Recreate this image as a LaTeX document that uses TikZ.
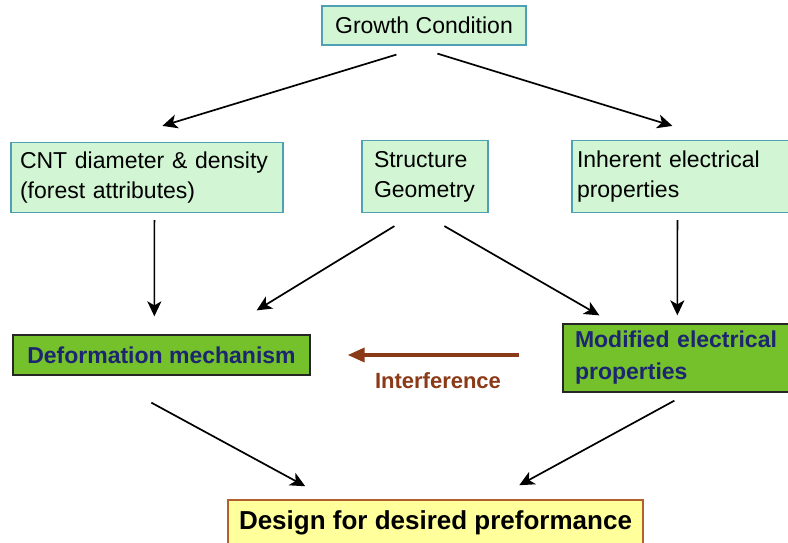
\documentclass[tikz,border=0pt]{standalone}
\usepackage{fontspec}
\setmainfont{Liberation Sans}
\usetikzlibrary{arrows.meta,calc}
\definecolor{lightbox}{HTML}{D2F5D4}
\definecolor{lightborder}{HTML}{4F9FB5}
\definecolor{darkbox}{HTML}{74C12C}
\definecolor{navytext}{HTML}{1C2570}
\definecolor{designfill}{HTML}{FFFF9C}
\definecolor{designborder}{HTML}{B3602E}
\definecolor{brownarrow}{HTML}{8B3A17}
\tikzset{
  lightnode/.style={draw=lightborder, fill=lightbox, line width=1.2pt, inner ysep=0pt,
    font=\fontsize{23}{30}\selectfont, align=left},
  darknode/.style={draw=black!85, fill=darkbox, line width=1.3pt, inner ysep=0pt,
    text=navytext, font=\fontsize{23}{32}\selectfont\bfseries, align=left},
  designnode/.style={draw=designborder, fill=designfill, line width=1.5pt, inner ysep=0pt,
    font=\fontsize{26}{30}\selectfont\bfseries, align=center},
  conn/.style={line width=1.7pt, -{Stealth[length=15pt,width=14pt,inset=4pt]}},
  interf/.style={line width=3.5pt, draw=brownarrow, -{Triangle[length=17pt,width=14pt]}},
}
\begin{document}
\begin{tikzpicture}[x=1pt,y=-1pt]
\useasboundingbox (0,0) rectangle (788,543);
\fill[white] (0,0) rectangle (788,543);
\clip (0,0) rectangle (788,543);

\node[lightnode, minimum width=204pt, minimum height=39pt, align=center] (growth) at (424,25.5) {Growth Condition};
\node[lightnode, inner xsep=9pt, text width=254pt, minimum height=70pt] (cnt) at (147,177.5) {CNT diameter \& density\\(forest attributes)};
\node[lightnode, inner xsep=12pt, text width=102pt, minimum height=72pt] (struct) at (425,176.5) {Structure\\Geometry};
\node[lightnode, inner xsep=5pt, text width=218pt, minimum height=72pt] (inherent) at (686,176.5) {Inherent electrical\\properties};
\node[darknode, minimum width=297pt, minimum height=40pt, align=center] (deform) at (161.5,355) {Deformation mechanism};
\node[darknode, inner xsep=12pt, text width=213pt, minimum height=68pt] (modified) at (681.5,358) {Modified electrical\\properties};
\node[designnode, minimum width=415pt, minimum height=45pt] (design) at (435.5,522.5) {Design for desired preformance};
\node[text=brownarrow, font=\fontsize{22}{26}\selectfont\bfseries] (interlabel) at (438,381) {Interference};

\draw[conn] ($(growth.south west)+(75,9)$) -- ($(cnt.north west)+(152,-16)$);
\draw[conn] ($(growth.south west)+(116,8)$) -- ($(inherent.north west)+(101,-14)$);
\draw[conn] ($(cnt.south west)+(144,7)$) -- ($(deform.north west)+(142,-18)$);
\draw[conn] ($(struct.south west)+(33,13)$) -- ($(deform.north east)+(-54,-24)$);
\draw[conn] ($(struct.south west)+(83,13)$) -- ($(modified.north west)+(37,-8)$);
\draw[conn] ($(inherent.south west)+(106,7)$) -- ($(modified.north west)+(115,-8)$);
\draw[conn] ($(deform.south west)+(139,27)$) -- ($(design.north west)+(78,-13)$);
\draw[conn] ($(modified.south west)+(112,8)$) -- ($(design.north west)+(292,-14)$);
\draw[interf] ($(modified.west)+(-43,-3)$) -- ($(deform.east)+(37,0)$);
\end{tikzpicture}
\end{document}
